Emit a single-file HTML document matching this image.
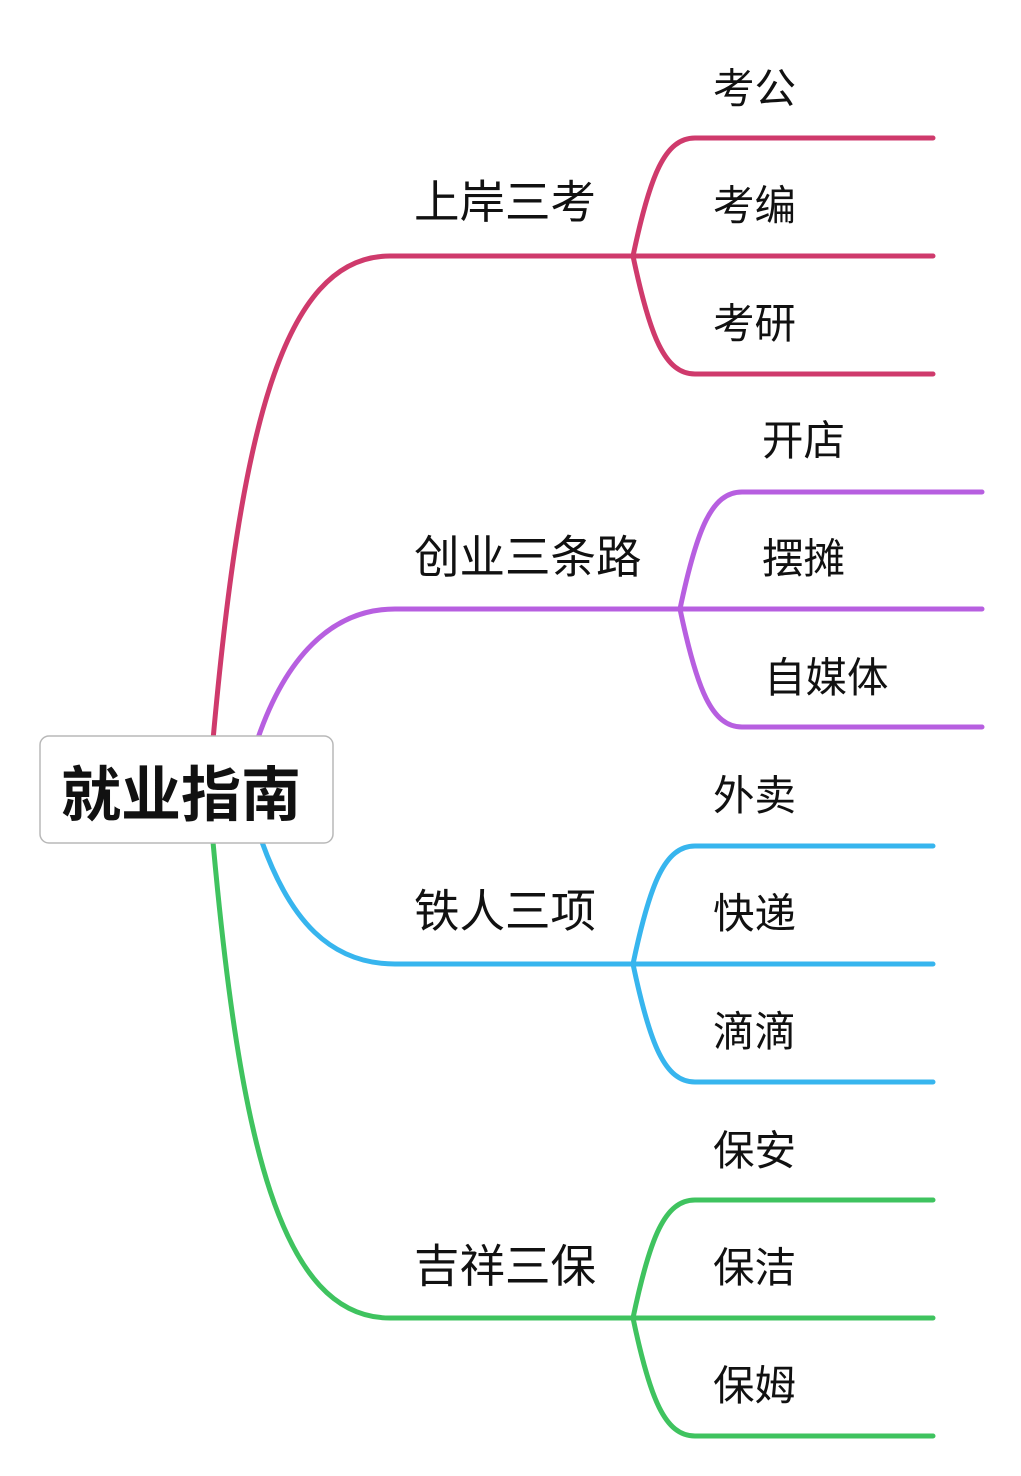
<!DOCTYPE html>
<html><head><meta charset="utf-8"><style>
html,body{margin:0;padding:0;background:#fff;}
svg{display:block;}
text{font-family:"Liberation Sans","Noto Sans CJK SC",sans-serif;fill:#111;}
</style></head><body>
<svg width="1021" height="1476" viewBox="0 0 1021 1476" xmlns="http://www.w3.org/2000/svg">
<g fill="none" stroke-width="5" stroke-linecap="round">
<g stroke="#cf3a6c">
<path d="M213,740 C240,440 280,256 390,256 L633,256"/>
<path d="M633,256 C650,175 665,138 695,138 L933,138"/>
<path d="M633,256 L933,256"/>
<path d="M633,256 C650,337 665,374 695,374 L933,374"/>
</g>
<g stroke="#b75fe0">
<path d="M258,738 C285,660 330,609 395,609 L680,609"/>
<path d="M680,609 C697,528 712,492 742,492 L982,492"/>
<path d="M680,609 L982,609"/>
<path d="M680,609 C697,690 712,727 742,727 L982,727"/>
</g>
<g stroke="#37b5ee">
<path d="M262,842 C290,920 330,964 395,964 L633,964"/>
<path d="M633,964 C650,883 665,846 695,846 L933,846"/>
<path d="M633,964 L933,964"/>
<path d="M633,964 C650,1045 665,1082 695,1082 L933,1082"/>
</g>
<g stroke="#3fc35f">
<path d="M213,842 C240,1140 280,1318 390,1318 L633,1318"/>
<path d="M633,1318 C650,1237 665,1200 695,1200 L933,1200"/>
<path d="M633,1318 L933,1318"/>
<path d="M633,1318 C650,1399 665,1436 695,1436 L933,1436"/>
</g>
</g>
<rect x="40" y="736" width="293" height="107" rx="9" fill="#fff" stroke="#b8b8b8" stroke-width="1.5"/>
<text x="61" y="816" font-size="60" font-weight="bold">就业指南</text>
<g font-size="45.5">
<text x="414" y="218">上岸三考</text>
<text x="414" y="573">创业三条路</text>
<text x="414" y="927">铁人三项</text>
<text x="414" y="1282">吉祥三保</text>
</g>
<g font-size="41.5">
<text x="713" y="103">考公</text>
<text x="713" y="220">考编</text>
<text x="713" y="338">考研</text>
<text x="762" y="455">开店</text>
<text x="762" y="573">摆摊</text>
<text x="764" y="692">自媒体</text>
<text x="713" y="810">外卖</text>
<text x="713" y="928">快递</text>
<text x="713" y="1046">滴滴</text>
<text x="713" y="1165">保安</text>
<text x="713" y="1282">保洁</text>
<text x="713" y="1400">保姆</text>
</g>
</svg>
</body></html>
